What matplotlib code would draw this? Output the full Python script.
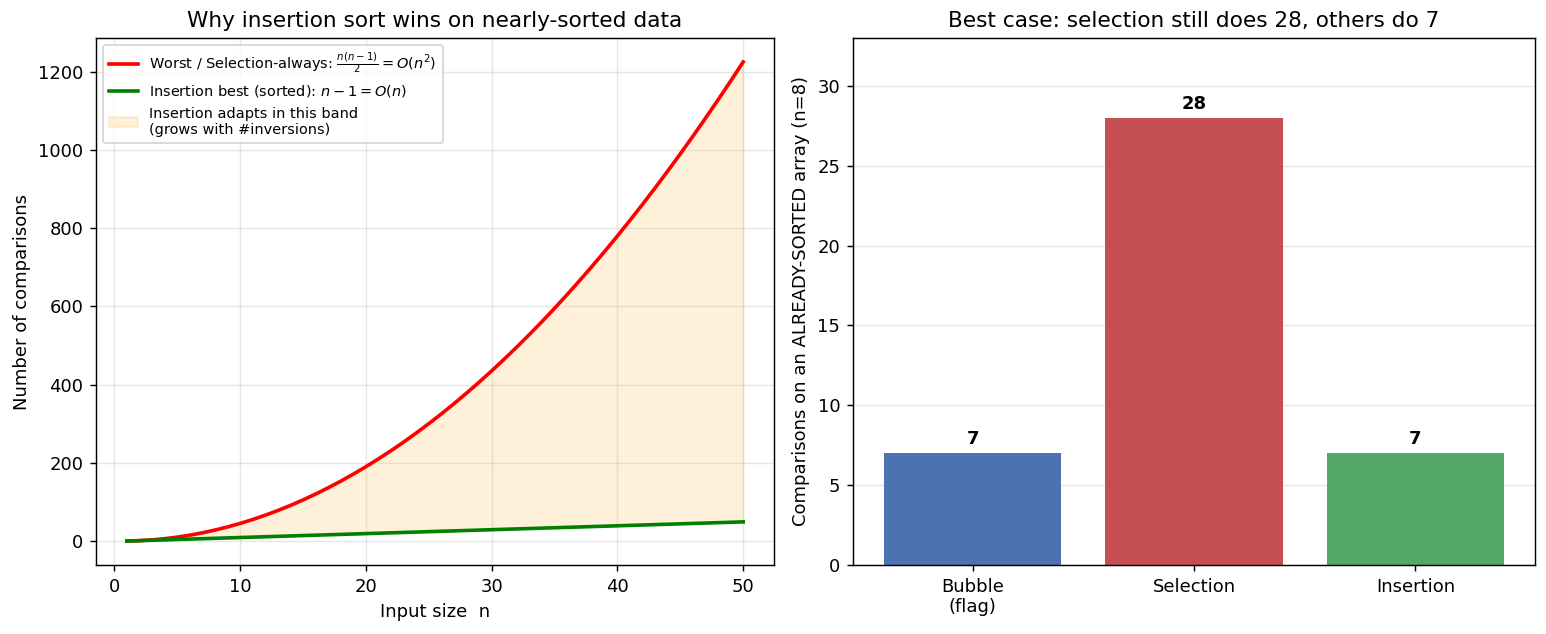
import matplotlib
matplotlib.use("Agg")
import matplotlib.pyplot as plt

# Left panel data
n_values = list(range(1, 51))
worst_comparisons = [0, 1, 3, 6, 10, 15, 21, 28, 36, 45, 55, 66, 78, 91, 105, 120, 136, 153,
                     171, 190, 210, 231, 253, 276, 300, 325, 351, 378, 406, 435, 465, 496, 528,
                     561, 595, 630, 666, 703, 741, 780, 820, 861, 903, 946, 990, 1035, 1081,
                     1128, 1176, 1225]
best_comparisons = list(range(0, 50))

# Right panel data
algorithms = ["Bubble\n(flag)", "Selection", "Insertion"]
sorted_comparisons = [7, 28, 7]
bar_colors = ["#4C72B0", "#C44E52", "#55A868"]

DPI = 130
W, H = 1546, 634
fig = plt.figure(figsize=(W / DPI, H / DPI), dpi=DPI)
ax1 = fig.add_axes([96 / W, (H - 565) / H, 678 / W, 527 / H])
ax2 = fig.add_axes([853 / W, (H - 565) / H, 682 / W, 527 / H])

ax1.fill_between(n_values, best_comparisons, worst_comparisons, color="orange", alpha=0.15,
                 label="Insertion adapts in this band\n(grows with #inversions)")
ax1.plot(n_values, worst_comparisons, color="red", lw=2,
         label=r"Worst / Selection-always: $\frac{n(n-1)}{2} = O(n^2)$")
ax1.plot(n_values, best_comparisons, color="green", lw=2,
         label=r"Insertion best (sorted): $n-1 = O(n)$")
ax1.set_title("Why insertion sort wins on nearly-sorted data", fontsize=12)
ax1.set_xlabel("Input size  n")
ax1.set_ylabel("Number of comparisons")
ax1.grid(True, alpha=0.3)
handles, labels = ax1.get_legend_handles_labels()
order = [1, 2, 0]
ax1.legend([handles[i] for i in order], [labels[i] for i in order], fontsize=8, loc="upper left")

bars = ax2.bar(algorithms, sorted_comparisons, color=bar_colors, alpha=1.0)
for b, v in zip(bars, sorted_comparisons):
    ax2.text(b.get_x() + b.get_width() / 2, v + 0.3, str(v), ha="center", va="bottom",
             fontweight="bold")
ax2.set_ylim(0, 33)
ax2.set_title("Best case: selection still does 28, others do 7", fontsize=12)
ax2.set_ylabel("Comparisons on an ALREADY-SORTED array (n=8)")
ax2.grid(True, axis="y", alpha=0.3)
ax2.set_axisbelow(True)

fig.savefig("out.png", dpi=DPI)
